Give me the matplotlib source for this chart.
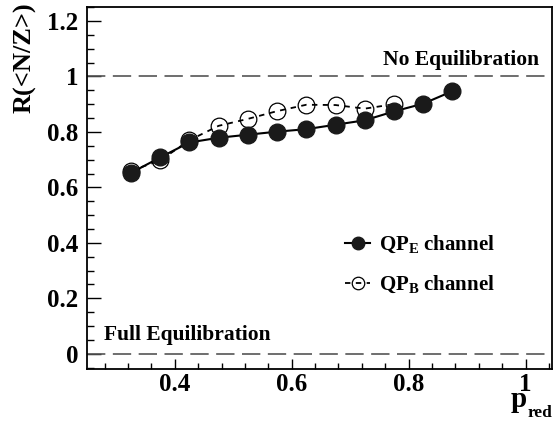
import matplotlib
matplotlib.use('Agg')
import matplotlib.pyplot as plt
from matplotlib.ticker import MultipleLocator, FixedLocator

plt.rcParams['font.family'] = ['Liberation Serif', 'DejaVu Serif']
plt.rcParams['font.weight'] = 'bold'
plt.rcParams['mathtext.fontset'] = 'custom'
plt.rcParams['mathtext.rm'] = 'Liberation Serif:bold'
plt.rcParams['mathtext.bf'] = 'Liberation Serif:bold'
plt.rcParams['mathtext.it'] = 'Liberation Serif:bold'

# data
p_red_e = [0.325, 0.375, 0.425, 0.475, 0.525, 0.575, 0.625, 0.675, 0.725, 0.775, 0.825, 0.875]
r_e = [0.652, 0.708, 0.762, 0.779, 0.790, 0.801, 0.810, 0.826, 0.842, 0.874, 0.902, 0.947]
p_red_b = [0.325, 0.375, 0.425, 0.475, 0.525, 0.575, 0.625, 0.675, 0.725, 0.775]
r_b = [0.660, 0.697, 0.770, 0.822, 0.847, 0.875, 0.898, 0.897, 0.884, 0.900]

x_ticks = [0.4, 0.6, 0.8, 1.0]
x_tick_labels = ['0.4', '0.6', '0.8', '1']
y_ticks = [0, 0.2, 0.4, 0.6, 0.8, 1.0, 1.2]
y_tick_labels = ['0', '0.2', '0.4', '0.6', '0.8', '1', '1.2']

fig = plt.figure(figsize=(5.58, 4.21), dpi=100)
ax = fig.add_axes([0.156, 0.1235, 0.833, 0.8595])

ax.axhline(1.0, color='#555555', lw=1.2, dashes=(11, 4.5))
ax.axhline(0.0, color='#555555', lw=1.2, dashes=(11, 4.5))

lb, = ax.plot(p_red_b, r_b, color='black', lw=1.3, dashes=(3, 3),
              marker='o', ms=12, mfc='none', mec='black', mew=0.9,
              label=r'$\mathrm{QP}_{\mathrm{B}}$ channel')
le, = ax.plot(p_red_e, r_e, color='black', lw=1.5,
              marker='o', ms=12, mfc='#1a1a1a', mec='#1a1a1a',
              label=r'$\mathrm{QP}_{\mathrm{E}}$ channel')

ax.set_xlim(0.25, 1.045)
ax.set_ylim(-0.055, 1.25)

ax.xaxis.set_major_locator(FixedLocator(x_ticks))
ax.set_xticklabels(x_tick_labels)
ax.xaxis.set_minor_locator(MultipleLocator(0.04))
ax.yaxis.set_major_locator(FixedLocator(y_ticks))
ax.set_yticklabels(y_tick_labels)
ax.yaxis.set_minor_locator(MultipleLocator(0.05))

ax.tick_params(axis='both', which='both', direction='in', labelsize=18, width=1.0)
ax.tick_params(axis='y', which='major', length=10, pad=6)
ax.tick_params(axis='y', which='minor', length=5)
ax.tick_params(axis='x', which='major', length=7, pad=3)
ax.tick_params(axis='x', which='minor', length=4)
for s in ax.spines.values():
    s.set_linewidth(1.3)

ax.text(0.757, 1.025, 'No Equilibration', fontsize=15.5, fontweight='bold', va='bottom')
ax.text(0.279, 0.03, 'Full Equilibration', fontsize=15.5, fontweight='bold', va='bottom')

# axis titles, ROOT style at the ends of the axes
ax.text(-0.133, 1.012, 'R(<N/Z>)', transform=ax.transAxes, rotation=90,
        fontsize=19, fontweight='bold', ha='center', va='top')
ax.text(0.946, -0.106, 'p', transform=ax.transAxes, fontsize=21,
        fontweight='bold', ha='right', va='baseline')
ax.text(0.948, -0.132, 'red', transform=ax.transAxes, fontsize=12.5,
        fontweight='bold', ha='left', va='baseline')

leg = ax.legend(handles=[le, lb], loc='upper left', bbox_to_anchor=(0.515, 0.425),
                frameon=False, fontsize=15, markerscale=0.75, handlelength=1.2,
                handletextpad=0.4, labelspacing=0.9)

fig.savefig('out.png', dpi=100)
plt.close(fig)
